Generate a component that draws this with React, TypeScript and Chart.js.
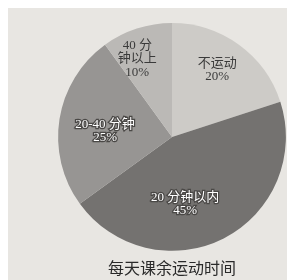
import React, { useEffect, useRef } from "react";
import { Chart, registerables } from "chart.js";

Chart.register(...registerables);

const categories = ["不运动", "20分钟以内", "20-40分钟", "40分钟以上"];
const labelLines = [["不运动", "20%"], ["20 分钟以内", "45%"], ["20-40 分钟", "25%"], ["40 分", "钟以上", "10%"]];
const values = [20, 45, 25, 10];
const colors = ["#cdcbc7", "#747270", "#979593", "#bbb9b6"];
const textColors = ["#3a3a3a", "#ffffff", "#ffffff", "#3a3a3a"];
const labelRadius = [0.71, 0.6, 0.59, 0.75];
const labelAngleShift = [-2, 16, -4, -6];
const titleText = "每天课余运动时间";

const labelPlugin = {
  id: "sliceLabels",
  afterDatasetsDraw(chart: any) {
    const ctx = chart.ctx;
    const meta = chart.getDatasetMeta(0);
    ctx.save();
    ctx.font = "13px 'Liberation Serif', 'Noto Sans CJK SC', serif";
    ctx.textAlign = "center";
    ctx.textBaseline = "middle";
    meta.data.forEach((arc: any, i: number) => {
      const mid = (arc.startAngle + arc.endAngle) / 2 + (labelAngleShift[i] * Math.PI) / 180;
      const r = arc.outerRadius * labelRadius[i];
      const x = arc.x + Math.cos(mid) * r;
      const y = arc.y + Math.sin(mid) * r;
      const lines = labelLines[i];
      const lh = 13.5;
      lines.forEach((t, j) => {
        const yy = y + (j - (lines.length - 1) / 2) * lh;
        if (textColors[i] === "#ffffff") {
          ctx.lineWidth = 2.5;
          ctx.strokeStyle = "#4a4846";
          ctx.strokeText(t, x, yy);
        }
        ctx.fillStyle = textColors[i];
        ctx.fillText(t, x, yy);
      });
    });
    ctx.restore();
  },
};

export default function App() {
  const ref = useRef<HTMLCanvasElement>(null);
  useEffect(() => {
    if (!ref.current) return;
    const chart = new Chart(ref.current, {
      type: "pie",
      data: {
        labels: categories,
        datasets: [{ data: values, backgroundColor: colors, borderWidth: 0 }],
      },
      options: {
        animation: false,
        responsive: false,
        layout: { padding: { left: 50, right: 9, top: 15, bottom: 0 } },
        plugins: {
          legend: { display: false },
          tooltip: { enabled: false },
          title: {
            display: true,
            text: titleText,
            position: "bottom",
            color: "#2a2a2a",
            font: { size: 16, family: "'Noto Sans CJK SC', sans-serif", weight: "normal" },
            padding: { top: 8, bottom: 2 },
          },
        },
      },
      plugins: [labelPlugin],
    });
    return () => chart.destroy();
  }, []);
  return (
    <div style={{ width: 287, height: 272, background: "#e8e6e2" }}>
      <canvas ref={ref} width={287} height={272} />
    </div>
  );
}
